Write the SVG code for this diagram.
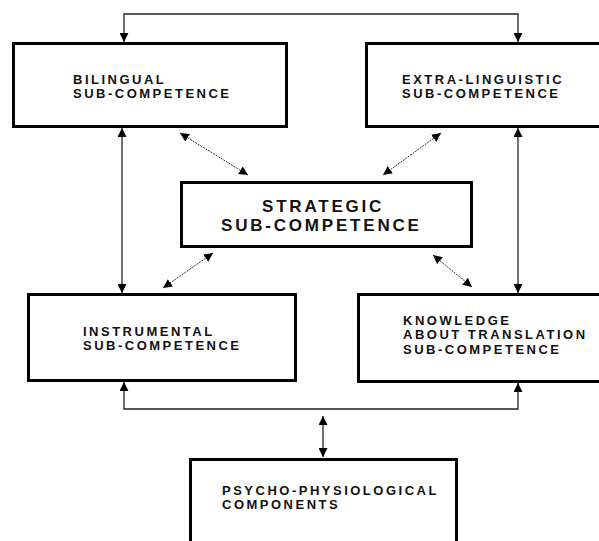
<svg xmlns="http://www.w3.org/2000/svg" width="599" height="541" viewBox="0 0 599 541">
<style>
.box{fill:#fff;stroke:#000;stroke-width:3}
.t{font-family:"Liberation Sans",Arial,sans-serif;font-weight:bold;font-size:13px;letter-spacing:2.5px;fill:#111}
.ts{font-family:"Liberation Sans",Arial,sans-serif;font-weight:bold;font-size:17px;letter-spacing:2.8px;fill:#111}
.c{fill:none;stroke:#222;stroke-width:1.3;marker-start:url(#a);marker-end:url(#a)}
.d{fill:none;stroke:#333;stroke-width:1;stroke-dasharray:2 1;marker-start:url(#a);marker-end:url(#a)}
</style>
<defs>
<marker id="a" viewBox="0 0 10 10" refX="10" refY="5" markerWidth="9" markerHeight="9" markerUnits="userSpaceOnUse" orient="auto-start-reverse">
<path d="M0,0 L10,5 L0,10 z" fill="#000"/>
</marker>
</defs>
<rect width="599" height="541" fill="#fff"/>
<g id="connectors">
<path class="c" d="M124,42 V14 H518 V42"/>
<path class="c" d="M122,128 V293"/>
<path class="c" d="M518,128 V293"/>
<path class="c" d="M124,382 V409 H518 V383"/>
<path class="c" d="M323,416 V457"/>
<path class="d" d="M180,133 L248,175"/>
<path class="d" d="M441,133 L383,175"/>
<path class="d" d="M213,253 L163,288"/>
<path class="d" d="M433,255 L472,287"/>
</g>
<g id="bilingual">
<rect class="box" x="13.5" y="43.5" width="273" height="83"/>
<text class="t" x="73" y="83.5">BILINGUAL</text>
<text class="t" x="73" y="98">SUB-COMPETENCE</text>
</g>
<g id="extra">
<rect class="box" x="366.5" y="43.5" width="240" height="83"/>
<text class="t" x="402" y="83.5">EXTRA-LINGUISTIC</text>
<text class="t" x="402" y="98">SUB-COMPETENCE</text>
</g>
<g id="strategic">
<rect class="box" x="181.5" y="182.5" width="290" height="64"/>
<text class="ts" x="262" y="211.5">STRATEGIC</text>
<text class="ts" x="221" y="231">SUB-COMPETENCE</text>
</g>
<g id="instrumental">
<rect class="box" x="28.5" y="294.5" width="267" height="86"/>
<text class="t" x="83" y="335.5">INSTRUMENTAL</text>
<text class="t" x="83" y="350">SUB-COMPETENCE</text>
</g>
<g id="knowledge">
<rect class="box" x="358.5" y="294.5" width="250" height="87"/>
<text class="t" x="403" y="324.5">KNOWLEDGE</text>
<text class="t" x="403" y="339">ABOUT TRANSLATION</text>
<text class="t" x="403" y="353.5">SUB-COMPETENCE</text>
</g>
<g id="psycho">
<rect class="box" x="190.5" y="459.5" width="266" height="90"/>
<text class="t" x="222" y="494.5">PSYCHO-PHYSIOLOGICAL</text>
<text class="t" x="222" y="509">COMPONENTS</text>
</g>
</svg>
